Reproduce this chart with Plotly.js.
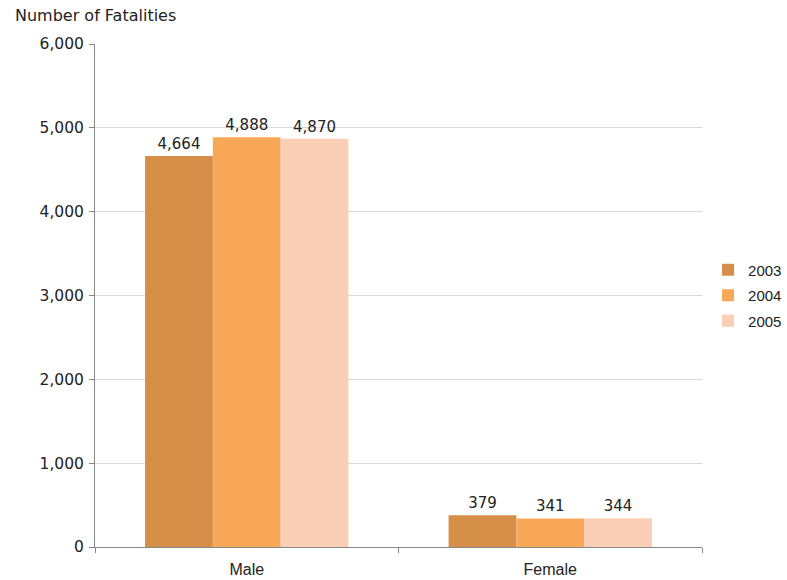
<!DOCTYPE html>
<html>
<head>
<meta charset="utf-8">
<script src="https://cdn.plot.ly/plotly-3.0.1.min.js"></script>
<style>html,body{margin:0;padding:0;background:#fff;}#chart{width:787px;height:580px;}</style>
</head>
<body>
<div id="chart"></div>
<script>
var categories = ["Male", "Female"];
var years = ["2003", "2004", "2005"];
var values2003 = [4664, 379];
var values2004 = [4888, 341];
var values2005 = [4870, 344];
var colors = ["#D68F48", "#F9A857", "#FBCEB6"];

var seriesValues = [values2003, values2004, values2005];
var traces = years.map(function (y, i) {
  return {
    type: "bar",
    name: y,
    legendgroup: "g" + i,
    x: categories,
    y: seriesValues[i],
    marker: { color: colors[i] },
    text: seriesValues[i].map(function (v) { return v.toLocaleString("en-US"); }),
    textposition: "outside",
    cliponaxis: false,
    textfont: { family: "DejaVu Sans, Verdana, sans-serif", size: 15, color: "#222" },
    hoverinfo: "skip"
  };
});

var layout = {
  width: 787,
  height: 580,
  margin: { l: 95, r: 85, t: 44, b: 33, autoexpand: false },
  paper_bgcolor: "#fff",
  plot_bgcolor: "#fff",
  barmode: "group",
  bargap: 0.33,
  bargroupgap: 0,
  font: { family: "DejaVu Sans, Verdana, sans-serif", size: 15, color: "#222" },
  xaxis: {
    type: "category",
    showline: true,
    linecolor: "#888",
    linewidth: 1,
    ticks: "outside",
    tickson: "boundaries",
    ticklen: 5,
    tickcolor: "#888",
    showgrid: false,
    ticklabelstandoff: 8,
    tickfont: { family: "Liberation Sans, Arial, sans-serif", size: 16, color: "#222" }
  },
  yaxis: {
    range: [0, 6000],
    dtick: 1000,
    tickformat: ",",
    showline: true,
    linecolor: "#888",
    linewidth: 1,
    ticks: "outside",
    ticklen: 5,
    tickcolor: "#888",
    showgrid: true,
    gridcolor: "#D9D9D9",
    zeroline: false,
    ticklabelstandoff: 2,
    tickfont: { family: "DejaVu Sans, Verdana, sans-serif", size: 15.5, color: "#222" }
  },
  legend: {
    x: 1.01,
    y: 0.5,
    yanchor: "middle",
    xanchor: "left",
    traceorder: "grouped",
    tracegroupgap: 3,
    font: { family: "Liberation Sans, Arial, sans-serif", size: 15, color: "#222" },
    itemwidth: 30
  },
  showlegend: true,
  annotations: [{
    text: "Number of Fatalities",
    xref: "paper", yref: "paper",
    x: -0.135, y: 1.0,
    xanchor: "left", yanchor: "bottom",
    yshift: 17,
    showarrow: false,
    font: { family: "DejaVu Sans, Verdana, sans-serif", size: 16, color: "#222" }
  }]
};

Plotly.newPlot("chart", traces, layout, { displayModeBar: false, staticPlot: true });
</script>
</body>
</html>
